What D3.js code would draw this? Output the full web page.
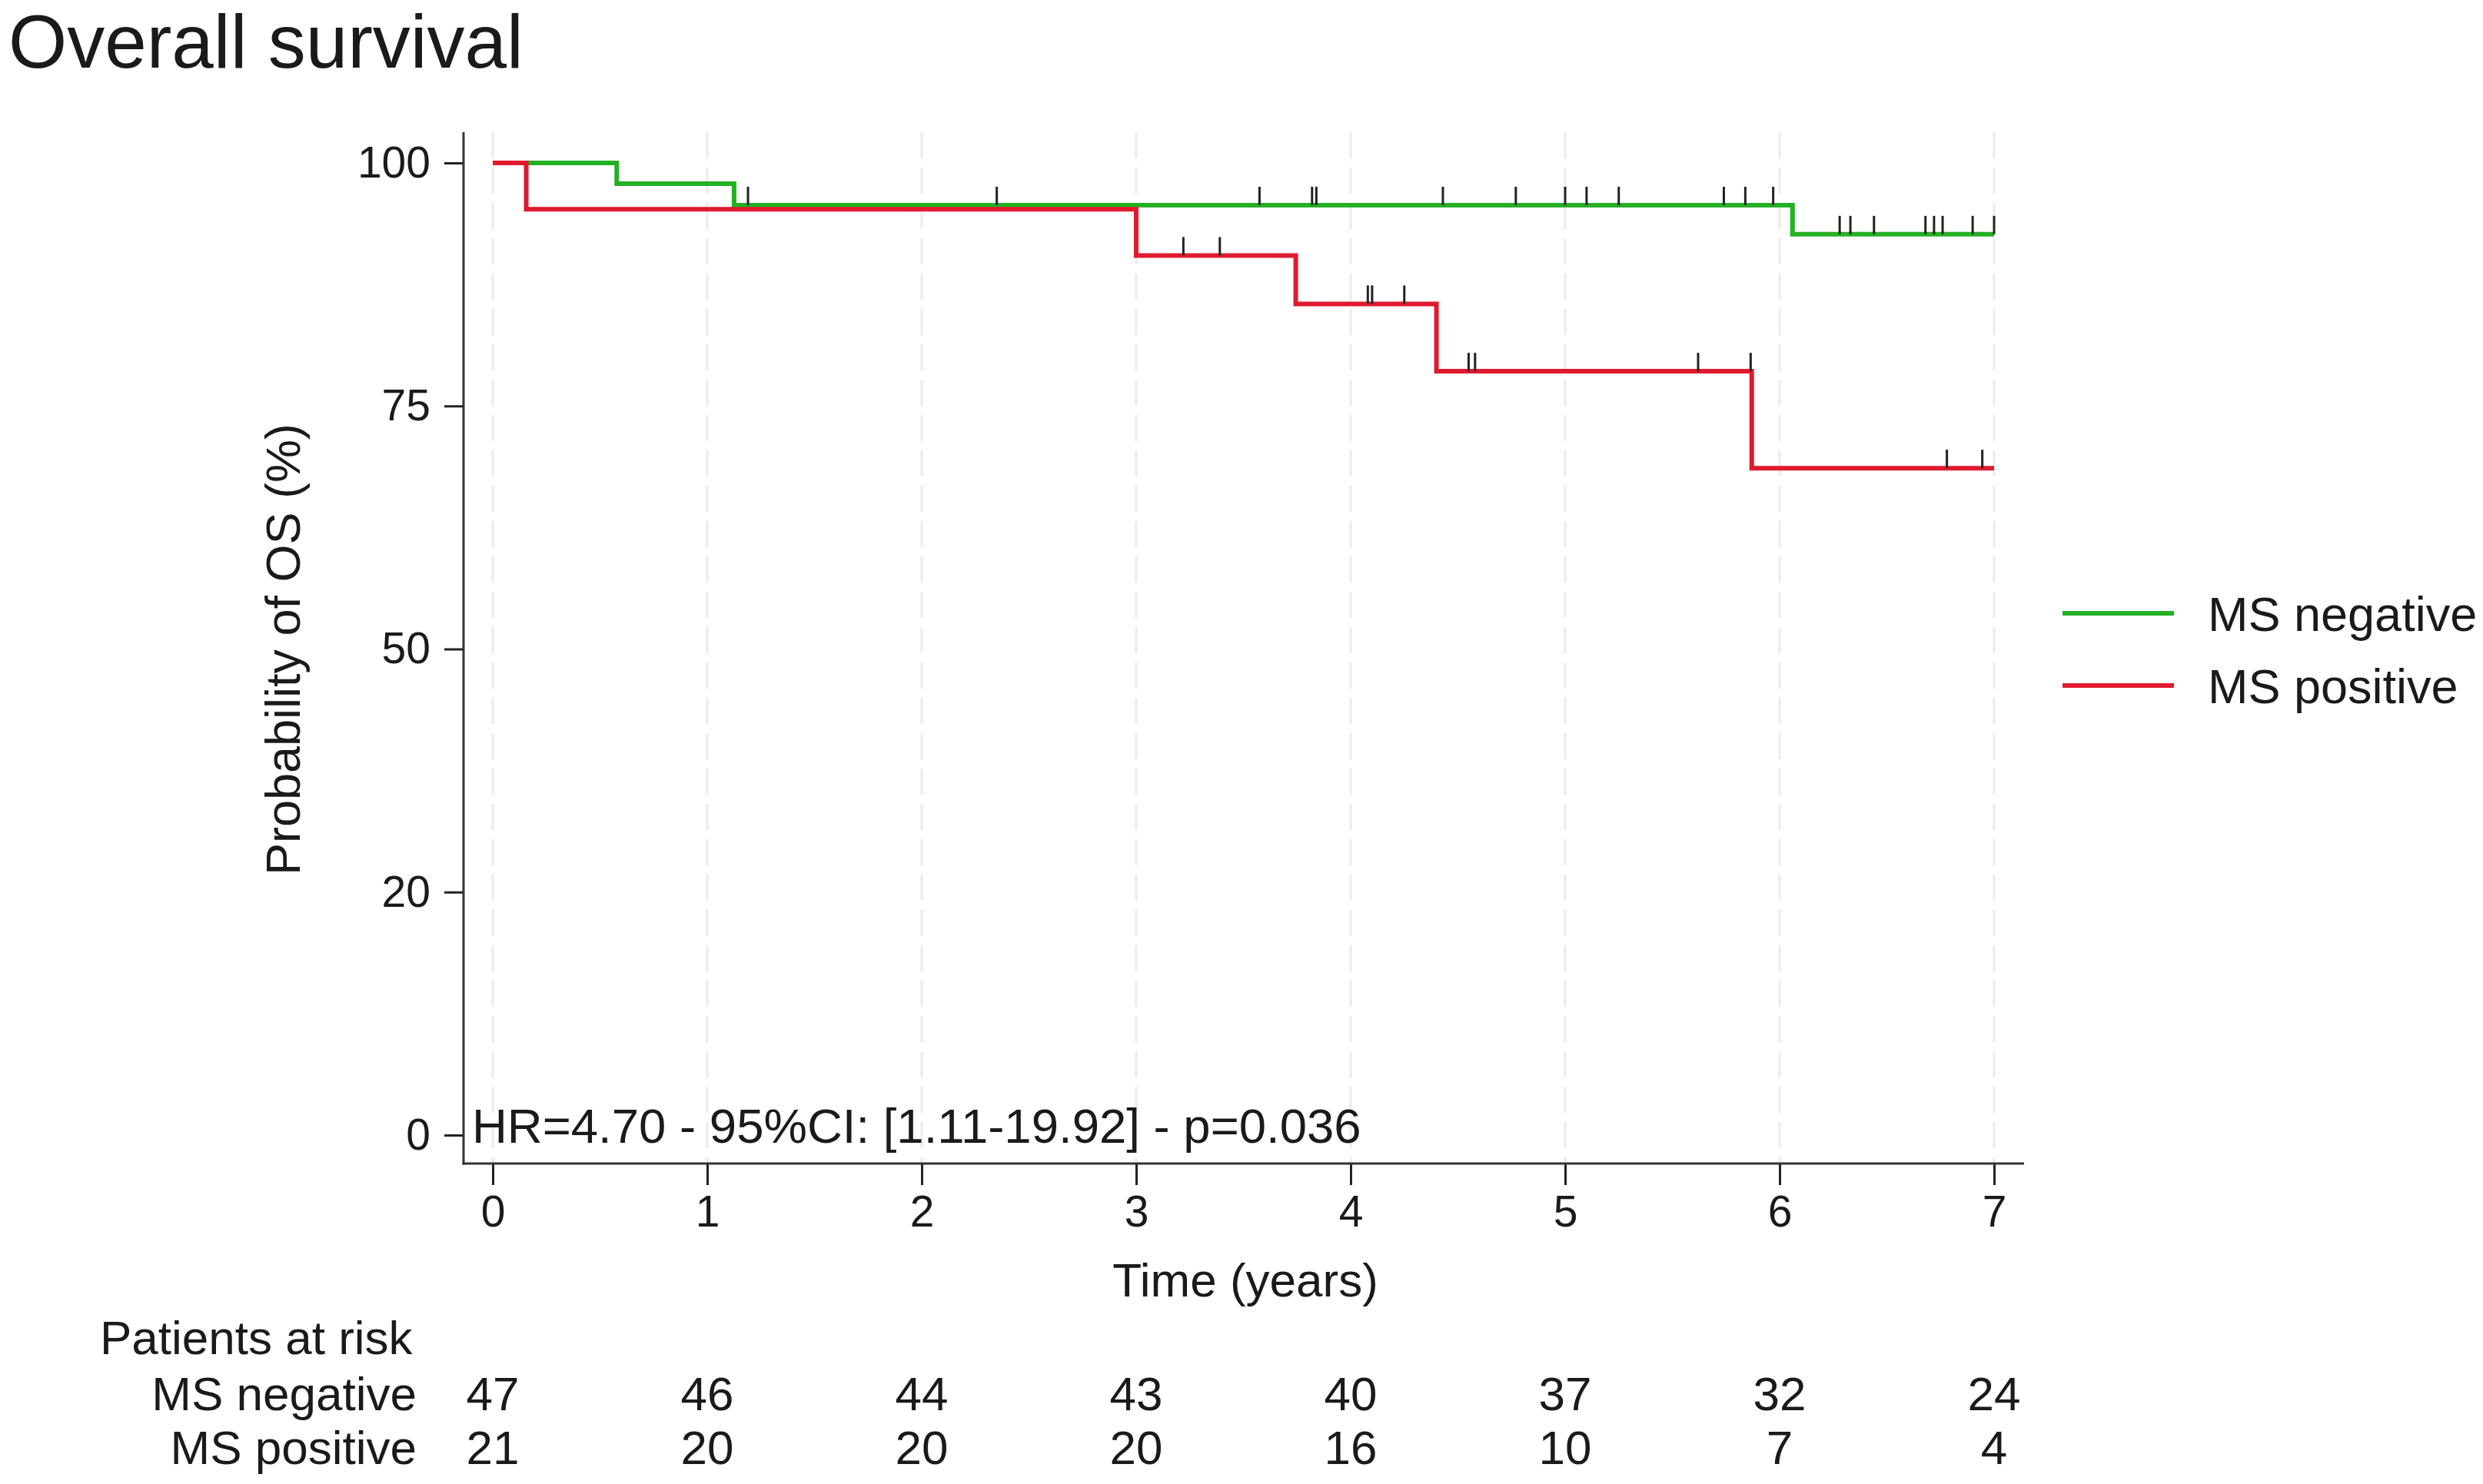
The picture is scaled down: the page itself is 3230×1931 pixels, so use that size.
<!DOCTYPE html>
<html>
<head>
<meta charset="utf-8">
<script src="https://cdn.jsdelivr.net/npm/d3@7"></script>
<style>
  html, body { margin: 0; padding: 0; background: #fff; }
  svg { display: block; }
  text { font-family: "Liberation Sans", Arial, sans-serif; fill: #1a1a1a; }
</style>
</head>
<body>
<svg id="chart" width="3230" height="1931"></svg>
<script>
// ---------------- data ----------------
const groups = ["MS negative", "MS positive"];
const xTicks = [0, 1, 2, 3, 4, 5, 6, 7];
const yTickValues = [0, 25, 50, 75, 100];
const yTickLabels = ["0", "20", "50", "75", "100"];

// Kaplan-Meier step curves (time in years, survival %)
const negTimes = [0, 0.578, 1.125, 6.06];
const negSurv  = [100, 97.87, 95.65, 92.66];
const posTimes = [0, 0.156, 3.0, 3.744, 4.40, 5.87];
const posSurv  = [100, 95.24, 90.48, 85.5, 78.57, 68.6];
const endTime = 7.0;

// censoring times
const negCensor = [1.19, 2.35, 3.575, 3.82, 3.84, 4.43, 4.77, 5.0, 5.10, 5.25, 5.74, 5.84, 5.97,
                   6.28, 6.33, 6.44, 6.68, 6.72, 6.76, 6.90, 7.0];
const posCensor = [3.22, 3.39, 4.08, 4.10, 4.25, 4.55, 4.58, 5.62, 5.865, 6.78, 6.945];

// patients at risk
const riskNeg = [47, 46, 44, 43, 40, 37, 32, 24];
const riskPos = [21, 20, 20, 20, 16, 10, 7, 4];

const titleText = "Overall survival";
const yLabel = "Probability of OS (%)";
const xLabel = "Time (years)";
const hrText = "HR=4.70 - 95%CI: [1.11-19.92] - p=0.036";
const riskTitle = "Patients at risk";

// ---------------- layout ----------------
const colors = { "MS negative": "#24b024", "MS positive": "#e01a2e" };
const svg = d3.select("#chart");
const x = d3.scaleLinear().domain([0, 7]).range([641, 2594]);
const y = d3.scaleLinear().domain([0, 100]).range([1477, 212]);
const axisY = 1514, axisX = 603, axisTop = 172, axisRight = 2633;

// title
svg.append("text").attr("x", 11).attr("y", 88)
  .style("font-size", "98px").text(titleText);

// grid (vertical dashed)
svg.append("g").selectAll("line").data(xTicks).join("line")
  .attr("x1", d => x(d)).attr("x2", d => x(d))
  .attr("y1", axisTop).attr("y2", axisY)
  .attr("stroke", "#ebebeb").attr("stroke-width", 3)
  .attr("stroke-dasharray", "34,12");

// axes
const gx = svg.append("g").attr("transform", `translate(0,${axisY})`)
  .call(d3.axisBottom(x).tickValues(xTicks).tickFormat(d3.format("d")).tickSize(28).tickPadding(14));
gx.select(".domain").remove();
gx.selectAll(".tick line").attr("stroke", "#222").attr("stroke-width", 3);
gx.selectAll(".tick text").style("font-size", "57px").attr("fill", "#1a1a1a")
  .style("font-family", "'Liberation Sans', Arial, sans-serif");

const gy = svg.append("g").attr("transform", `translate(${axisX},0)`)
  .call(d3.axisLeft(y).tickValues(yTickValues)
    .tickFormat((d, i) => yTickLabels[i]).tickSize(25).tickPadding(18));
gy.select(".domain").remove();
gy.selectAll(".tick line").attr("stroke", "#222").attr("stroke-width", 3);
gy.selectAll(".tick text").style("font-size", "57px").attr("fill", "#1a1a1a")
  .style("font-family", "'Liberation Sans', Arial, sans-serif");

svg.append("line").attr("x1", axisX).attr("x2", axisX).attr("y1", axisTop).attr("y2", axisY + 1.5)
  .attr("stroke", "#333").attr("stroke-width", 3);
svg.append("line").attr("x1", axisX - 1.5).attr("x2", axisRight).attr("y1", axisY).attr("y2", axisY)
  .attr("stroke", "#333").attr("stroke-width", 3);

// axis labels
svg.append("text").attr("transform", "translate(390,845) rotate(-90)")
  .attr("text-anchor", "middle").style("font-size", "63px").text(yLabel);
svg.append("text").attr("x", 1620).attr("y", 1687)
  .attr("text-anchor", "middle").style("font-size", "62px").text(xLabel);

// curves
function stepPoints(times, surv) {
  const pts = times.map((t, i) => [t, surv[i]]);
  pts.push([endTime, surv[surv.length - 1]]);
  return pts;
}
function survAt(times, surv, t) {
  let v = surv[0];
  for (let i = 0; i < times.length; i++) if (times[i] <= t) v = surv[i];
  return v;
}
const line = d3.line().x(d => x(d[0])).y(d => y(d[1])).curve(d3.curveStepAfter);

const series = [
  { name: "MS negative", times: negTimes, surv: negSurv, cens: negCensor },
  { name: "MS positive", times: posTimes, surv: posSurv, cens: posCensor }
];
series.forEach(s => {
  svg.append("path").datum(stepPoints(s.times, s.surv))
    .attr("d", line).attr("fill", "none")
    .attr("stroke", colors[s.name]).attr("stroke-width", 6)
    .attr("stroke-linejoin", "miter").attr("stroke-linecap", "butt");
});
series.forEach(s => {
  svg.append("g").selectAll("line").data(s.cens).join("line")
    .attr("x1", d => x(d)).attr("x2", d => x(d))
    .attr("y1", d => y(survAt(s.times, s.surv, d)))
    .attr("y2", d => y(survAt(s.times, s.surv, d)) - 24)
    .attr("stroke", "#222").attr("stroke-width", 3);
});

// HR annotation
svg.append("text").attr("x", 614).attr("y", 1487)
  .style("font-size", "63.5px").text(hrText);

// legend
const legY = [798, 892];
groups.forEach((g, i) => {
  svg.append("line").attr("x1", 2683).attr("x2", 2828)
    .attr("y1", legY[i]).attr("y2", legY[i])
    .attr("stroke", colors[g]).attr("stroke-width", 6);
  svg.append("text").attr("x", 2872).attr("y", legY[i] + 23)
    .style("font-size", "63px").text(g);
});

// risk table
svg.append("text").attr("x", 130).attr("y", 1762).style("font-size", "62px").text(riskTitle);
const riskRows = [riskNeg, riskPos];
const rowY = [1835, 1905];
groups.forEach((g, i) => {
  svg.append("text").attr("x", 542).attr("y", rowY[i]).attr("text-anchor", "end")
    .style("font-size", "62px").text(g);
  svg.append("g").selectAll("text").data(riskRows[i]).join("text")
    .attr("x", (d, j) => x(xTicks[j])).attr("y", rowY[i])
    .attr("text-anchor", "middle").style("font-size", "62px").text(d => d);
});
</script>
</body>
</html>
